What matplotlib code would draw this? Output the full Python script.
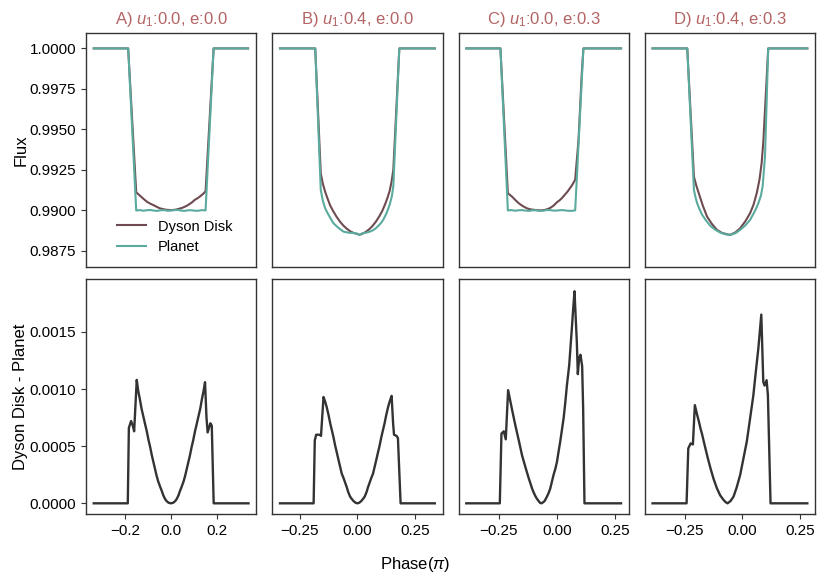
import numpy as np
import matplotlib
matplotlib.use("Agg")
from matplotlib import pyplot as plt

plt.rcParams['font.family'] = ['Liberation Sans', 'DejaVu Sans']
plt.rcParams['mathtext.fontset'] = 'custom'
plt.rcParams['mathtext.rm'] = 'Liberation Sans'
plt.rcParams['mathtext.it'] = 'Liberation Sans:italic'

DYSON_COLOR = "#6e4b50"
PLANET_COLOR = "#5aab9e"
DIFF_COLOR = "#333333"
TITLE_COLOR = "#b36464"

titles = ["A) $u_1$:0.0, e:0.0", "B) $u_1$:0.4, e:0.0",
          "C) $u_1$:0.0, e:0.3", "D) $u_1$:0.4, e:0.3"]

# --- top row: flux curves (phase in units of pi) ---
planet_a_x = [-0.336, -0.186, -0.151, -0.135, -0.12, -0.105, -0.09, -0.075, -0.06, -0.045, -0.03, -0.015, 0.0,
              0.015, 0.03, 0.045, 0.06, 0.075, 0.09, 0.105, 0.12, 0.135, 0.151, 0.186, 0.336]
planet_a_y = [1.0, 1.0, 0.99, 0.99002, 0.98998, 0.99001, 0.99003, 0.98999, 0.98997, 0.99001, 0.99002, 0.98998, 0.98999,
              0.99002, 0.99003, 0.98999, 0.98997, 0.99001, 0.99001, 0.98998, 0.98998, 0.99002, 0.99, 1.0, 1.0]
dyson_a_x = [-0.336, -0.186, -0.151, -0.14, -0.13, -0.118, -0.105, -0.09, -0.075, -0.06, -0.048, -0.034, -0.02, 0.0,
             0.012, 0.025, 0.04, 0.053, 0.067, 0.08, 0.092, 0.104, 0.118, 0.13, 0.141, 0.151, 0.186, 0.336]
dyson_a_y = [1.0, 1.0, 0.99112, 0.99098, 0.99085, 0.9907, 0.99054, 0.99042, 0.99032, 0.99021, 0.99013, 0.99008, 0.99004,
             0.99002, 0.99003, 0.99006, 0.99012, 0.99018, 0.99027, 0.99038, 0.9905, 0.99065, 0.99077, 0.9909, 0.99103,
             0.99118, 1.0, 1.0]

planet_b_x = [-0.336, -0.183, -0.159, -0.15, -0.14, -0.13, -0.12, -0.112, -0.104, -0.092, -0.08, -0.07, -0.06,
              -0.047, -0.035, -0.02, -0.01, 0.0, 0.009, 0.02, 0.035, 0.047, 0.06, 0.07, 0.08, 0.092, 0.104, 0.113,
              0.122, 0.13, 0.141, 0.15, 0.156, 0.182, 0.336]
planet_b_y = [1.0, 1.0, 0.99126, 0.9906, 0.99013, 0.98985, 0.9896, 0.9894, 0.98921, 0.98905, 0.9889, 0.98879, 0.98869,
              0.98865, 0.98862, 0.98861, 0.9886, 0.98855, 0.98849, 0.98858, 0.98862, 0.98866, 0.98872, 0.9888, 0.9889,
              0.98906, 0.98925, 0.98945, 0.9897, 0.98995, 0.9904, 0.9909, 0.9915, 1.0, 1.0]
dyson_b_x = [-0.336, -0.183, -0.159, -0.15, -0.14, -0.13, -0.118, -0.104, -0.09, -0.075, -0.06, -0.045, -0.03, -0.015,
             0.0, 0.009, 0.02, 0.035, 0.05, 0.065, 0.08, 0.095, 0.108, 0.12, 0.13, 0.14, 0.148, 0.156, 0.182, 0.336]
dyson_b_y = [1.0, 1.0, 0.99229, 0.99165, 0.99115, 0.99075, 0.9903, 0.98993, 0.9896, 0.9893, 0.98905, 0.98886, 0.9887,
             0.9886, 0.98855, 0.98849, 0.98855, 0.98866, 0.98882, 0.98903, 0.9893, 0.98963, 0.98997, 0.99037, 0.99075,
             0.9912, 0.99175, 0.9925, 1.0, 1.0]

planet_c_x = [-0.39, -0.243, -0.211, -0.195, -0.18, -0.165, -0.15, -0.135, -0.12, -0.105, -0.09, -0.075, -0.06,
              -0.045, -0.03, -0.015, 0.0, 0.015, 0.03, 0.045, 0.06, 0.0786, 0.114, 0.276]
planet_c_y = [1.0, 1.0, 0.99, 0.99002, 0.98998, 0.99001, 0.99002, 0.98999, 0.98997, 0.99001, 0.99001, 0.98998,
              0.98998, 0.99002, 0.99002, 0.98999, 0.98999, 0.99002, 0.99001, 0.98998, 0.98997, 0.99, 1.0, 1.0]
dyson_c_x = [-0.39, -0.243, -0.211, -0.193, -0.178, -0.164, -0.147, -0.129, -0.115, -0.1, -0.083, -0.067, -0.053,
             -0.04, -0.027, -0.014, 0.0, 0.011, 0.021, 0.033, 0.045, 0.055, 0.065, 0.0786, 0.093, 0.107, 0.114, 0.276]
dyson_c_y = [1.0, 1.0, 0.99106, 0.99085, 0.99063, 0.99044, 0.99027, 0.99013, 0.99007, 0.99004, 0.99001, 0.99, 0.99003,
             0.99008, 0.99017, 0.9903, 0.9905, 0.99062, 0.99075, 0.99095, 0.99115, 0.99135, 0.99155, 0.9919, 0.99435,
             0.99846, 1.0, 1.0]

planet_d_x = [-0.391, -0.24, -0.211, -0.204, -0.197, -0.186, -0.175, -0.157, -0.139, -0.118, -0.096, -0.075, -0.053,
              -0.03, -0.01, 0.012, 0.033, 0.05, 0.062, 0.069, 0.08, 0.0876, 0.098, 0.112, 0.282]
planet_d_y = [1.0, 1.0, 0.99126, 0.9908, 0.99044, 0.99005, 0.98972, 0.98935, 0.98904, 0.9888, 0.98863, 0.98853, 0.98849,
              0.9886, 0.9888, 0.98907, 0.98941, 0.98985, 0.9902, 0.99044, 0.9909, 0.99147, 0.99332, 1.0, 1.0]
dyson_d_x = [-0.391, -0.24, -0.211, -0.2, -0.19, -0.172, -0.154, -0.132, -0.111, -0.09, -0.0675, -0.053, -0.03, -0.01,
             0.012, 0.033, 0.048, 0.062, 0.074, 0.0833, 0.091, 0.098, 0.112, 0.282]
dyson_d_y = [1.0, 1.0, 0.99208, 0.9915, 0.99106, 0.99028, 0.98962, 0.98915, 0.9888, 0.98862, 0.98853, 0.98849, 0.98865,
             0.9889, 0.98932, 0.98982, 0.99035, 0.99106, 0.9919, 0.99291, 0.9943, 0.9962, 1.0, 1.0]

# --- bottom row: Dyson Disk - Planet ---
diff_a_x = [-0.336, -0.1877, -0.183, -0.1733, -0.166, -0.16, -0.1487, -0.142, -0.135, -0.128, -0.12, -0.112, -0.105,
            -0.097, -0.09, -0.083, -0.076, -0.069, -0.062, -0.055, -0.047, -0.04, -0.033, -0.026, -0.019, -0.01, 0.0,
            0.01, 0.019, 0.026, 0.033, 0.04, 0.047, 0.055, 0.062, 0.069, 0.076, 0.083, 0.09, 0.097, 0.105, 0.112,
            0.12, 0.128, 0.135, 0.142, 0.1487, 0.155, 0.16, 0.1718, 0.178, 0.1863, 0.338]
diff_a_y = [0, 0, 0.00066, 0.00072, 0.00068, 0.00063, 0.00108, 0.00098, 0.00091, 0.00083, 0.00076, 0.00069, 0.00063,
            0.00055, 0.00049, 0.00042, 0.00036, 0.0003, 0.00024, 0.00019, 0.000146, 0.00011, 0.00007, 0.00004, 0.00002,
            0.000005, 0, 0.000005, 0.00002, 0.00004, 0.00007, 0.00011, 0.000146, 0.00019, 0.00024, 0.0003, 0.00036,
            0.00042, 0.00049, 0.00055, 0.00063, 0.00069, 0.00076, 0.00083, 0.00091, 0.00098, 0.00106, 0.00075,
            0.00062, 0.0007, 0.00068, 0, 0]

diff_b_x = [-0.336, -0.19, -0.185, -0.179, -0.1645, -0.158, -0.147, -0.14, -0.133, -0.125, -0.118, -0.111, -0.104,
            -0.097, -0.09, -0.082, -0.075, -0.068, -0.06, -0.053, -0.046, -0.04, -0.032, -0.025, -0.017, -0.008, 0.0,
            0.008, 0.017, 0.025, 0.032, 0.04, 0.046, 0.053, 0.06, 0.068, 0.075, 0.082, 0.09, 0.097, 0.104, 0.111,
            0.118, 0.125, 0.133, 0.14, 0.1486, 0.155, 0.159, 0.17, 0.176, 0.1876, 0.336]
diff_b_y = [0, 0, 0.00055, 0.0006, 0.0006, 0.00059, 0.00093, 0.00089, 0.00084, 0.00077, 0.0007, 0.00064, 0.00058,
            0.00051, 0.00045, 0.00038, 0.00032, 0.00026, 0.00022, 0.00018, 0.00014, 0.0001, 0.00006, 0.00004, 0.00002,
            0.000005, 0, 0.000005, 0.00002, 0.00004, 0.00006, 0.0001, 0.00014, 0.00018, 0.00022, 0.00026, 0.00032,
            0.00038, 0.00045, 0.00051, 0.00058, 0.00064, 0.0007, 0.00077, 0.00084, 0.00089, 0.00094, 0.0007, 0.0006,
            0.00059, 0.00057, 0, 0]

diff_c_x = [-0.39, -0.2457, -0.2386, -0.2286, -0.22, -0.21, -0.2, -0.19, -0.1786, -0.164, -0.15, -0.136, -0.1214,
            -0.114, -0.107, -0.1, -0.0929, -0.086, -0.0786, -0.073, -0.0671, -0.06, -0.0529, -0.0429, -0.0357,
            -0.0286, -0.0214, -0.0143, -0.007, 0.0, 0.007, 0.0143, 0.0214, 0.0286, 0.036, 0.0429, 0.048, 0.053,
            0.0586, 0.0643, 0.07, 0.0757, 0.0857, 0.09, 0.0957, 0.1014, 0.1086, 0.1129, 0.1186, 0.276]
diff_c_y = [0, 0, 0.00061, 0.00063, 0.00056, 0.00099, 0.00089, 0.00079, 0.00068, 0.00055, 0.00042, 0.00032, 0.00022,
            0.000175, 0.00013, 0.000095, 0.000064, 0.00004, 0.00002, 0.000005, 0, 0.000008, 0.00002, 0.000058,
            0.00009, 0.00013, 0.00019, 0.00025, 0.0003, 0.00036, 0.00045, 0.00054, 0.00064, 0.00074, 0.00088, 0.00103,
            0.00112, 0.00121, 0.00137, 0.00153, 0.0017, 0.001855, 0.00141, 0.00113, 0.00127, 0.0013, 0.0012, 0.00083,
            0, 0]

diff_d_x = [-0.391, -0.243, -0.2356, -0.2256, -0.2155, -0.207, -0.1968, -0.19, -0.1825, -0.175, -0.168, -0.161, -0.15,
            -0.139, -0.125, -0.111, -0.097, -0.082, -0.073, -0.0647, -0.052, -0.039, -0.025, -0.01, 0.004, 0.0187,
            0.033, 0.0474, 0.058, 0.069, 0.0819, 0.0905, 0.096, 0.105, 0.1106, 0.1221, 0.282]
diff_d_y = [0, 0, 0.00048, 0.000524, 0.000515, 0.000859, 0.000772, 0.00072, 0.000655, 0.0006, 0.000539, 0.00048,
            0.00039, 0.000306, 0.00021, 0.000131, 0.00007, 0.000029, 0.00001, 0, 0.00002, 0.000058, 0.00014, 0.000248,
            0.00039, 0.000539, 0.00074, 0.000946, 0.00115, 0.001354, 0.001651, 0.001063, 0.00103, 0.001077, 0.000946,
            0, 0]

flux_panels = [(dyson_a_x, dyson_a_y, planet_a_x, planet_a_y),
               (dyson_b_x, dyson_b_y, planet_b_x, planet_b_y),
               (dyson_c_x, dyson_c_y, planet_c_x, planet_c_y),
               (dyson_d_x, dyson_d_y, planet_d_x, planet_d_y)]
diff_panels = [(diff_a_x, diff_a_y), (diff_b_x, diff_b_y), (diff_c_x, diff_c_y), (diff_d_x, diff_d_y)]
xticks = [[-0.2, 0.0, 0.2], [-0.25, 0.0, 0.25], [-0.25, 0.0, 0.25], [-0.25, 0.0, 0.25]]

fig, axes = plt.subplots(2, 4, figsize=(8.3, 5.81), dpi=100, sharey='row')
fig.subplots_adjust(left=0.1036, right=0.982, top=0.944, bottom=0.1153, wspace=0.094, hspace=0.051)

for i in range(4):
    top = axes[0, i]
    bot = axes[1, i]
    dx, dy, px, py = flux_panels[i]
    top.plot(dx, dy, color=DYSON_COLOR, lw=1.5, label="Dyson Disk")
    top.plot(px, py, color=PLANET_COLOR, lw=1.5, label="Planet")
    top.set_title(titles[i], color=TITLE_COLOR, fontsize=12, pad=6)
    top.set_xticks([])
    top.set_ylim(0.98649, 1.00098)

    bx, by = diff_panels[i]
    bot.plot(bx, by, color=DIFF_COLOR, lw=1.7)
    bot.set_xticks(xticks[i])
    bot.set_ylim(-0.0000935, 0.00196)
    # match x range of the flux panel above
    top.set_xlim(bot.get_xlim())

    for ax in (top, bot):
        for s in ax.spines.values():
            s.set_color("#333333")
            s.set_linewidth(1.0)
        ax.tick_params(labelsize=11, length=3.5, width=0.8, color="#333333")
        ax.ticklabel_format(axis='y', useOffset=False, style='plain')
        if i > 0:
            ax.tick_params(axis='y', left=False, labelleft=False)

axes[0, 0].set_yticks([0.9875, 0.99, 0.9925, 0.995, 0.9975, 1.0])
axes[1, 0].set_yticks([0.0, 0.0005, 0.001, 0.0015])
axes[0, 0].set_ylabel("Flux", fontsize=12, labelpad=1)
axes[1, 0].set_ylabel("Dyson Disk - Planet", fontsize=12, labelpad=1)
fig.align_ylabels(axes[:, 0])

axes[0, 0].legend(loc='lower left', bbox_to_anchor=(0.105, 0.0), frameon=False, fontsize=10.5,
                  handlelength=2.0, labelspacing=0.45)

fig.text(0.5, 1 - 565 / 581, r"Phase($\pi$)", ha='center', va='center', fontsize=12)

plt.savefig("out.png", dpi=100)
